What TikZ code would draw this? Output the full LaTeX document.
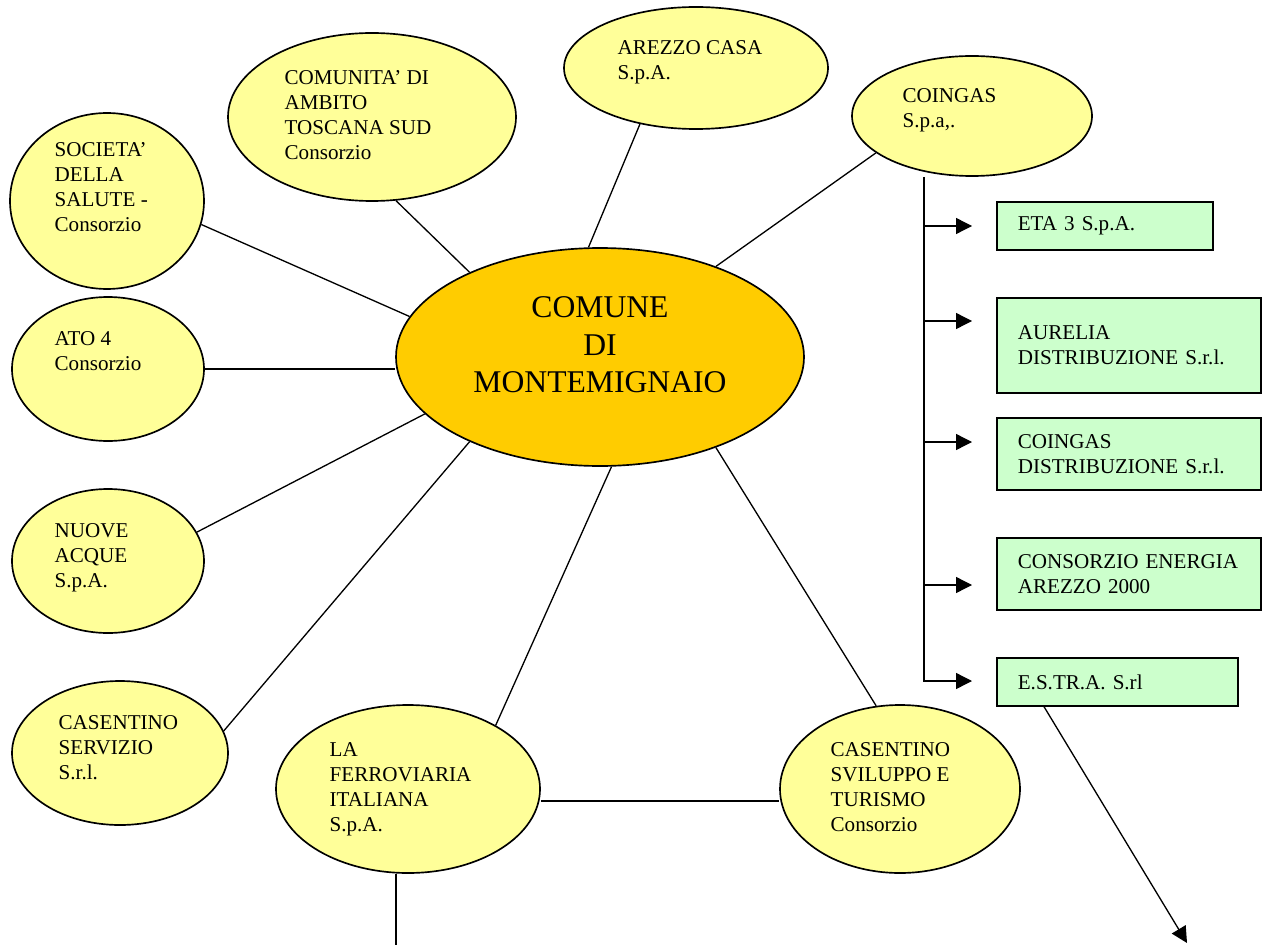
\documentclass[tikz,border=0pt]{standalone}
\usepackage{fontspec}
\setmainfont{Liberation Serif}
\usetikzlibrary{shapes, arrows.meta, positioning}

\definecolor{lemon}{HTML}{FFFF99}
\definecolor{amber}{HTML}{FFCC00}
\definecolor{mint}{HTML}{CCFFCC}

\begin{document}
\begin{tikzpicture}[x=0.2mm, y=-0.2mm, >={Triangle[length=3.2mm, width=3.2mm]}, line width=0.75pt,
  blob/.style 2 args={draw, ellipse, fill=lemon, line width=0.95pt, minimum width=#1*0.4mm, minimum height=#2*0.4mm, inner sep=0pt},
  tag/.style={anchor=north west, align=left, inner sep=0pt, font=\fontsize{12}{14.2}\selectfont},
  firm/.style 2 args={draw, fill=mint, line width=0.95pt, anchor=north west, align=left, inner xsep=4.2mm, text width=#1, minimum height=#2, font=\fontsize{12}{14.2}\selectfont}]

\useasboundingbox (0,0) rectangle (1265,947);

% Nodes
\node (com) [blob={204}{109}, fill=amber] at (600,357) {};
\node (comT) [align=center, inner sep=0pt, font=\fontsize{18}{21.3}\selectfont] at (600,345) {COMUNE\\DI\\MONTEMIGNAIO};

\node (soc) [blob={97}{88}] at (107,201) {};
\node (socT) [tag] at (54,142) {SOCIETA'\\DELLA\\SALUTE -\\Consorzio};
\node (comu) [blob={144}{84}] at (372,117) {};
\node (comuT) [tag] at (284,70) {COMUNITA' DI\\AMBITO\\TOSCANA SUD\\Consorzio};
\node (arezzo) [blob={132}{61}] at (696,68) {};
\node (arezzoT) [tag] at (617,40) {AREZZO CASA\\S.p.A.};
\node (coingas) [blob={120}{60}] at (972,116) {};
\node (coingasT) [tag] at (902,88) {COINGAS\\S.p.a,.};
\node (ato) [blob={96}{72}] at (108,369) {};
\node (atoT) [tag] at (54,331) {ATO 4\\Consorzio};
\node (nuove) [blob={96}{72}] at (108,561) {};
\node (nuoveT) [tag] at (54,523) {NUOVE\\ACQUE\\S.p.A.};
\node (casserv) [blob={108}{72}] at (120,753) {};
\node (casservT) [tag] at (58,715) {CASENTINO\\SERVIZIO\\S.r.l.};
\node (ferr) [blob={132}{84}] at (408,789) {};
\node (ferrT) [tag] at (329,742) {LA\\FERROVIARIA\\ITALIANA\\S.p.A.};
\node (cassvil) [blob={120}{84}] at (900,789) {};
\node (cassvilT) [tag] at (830,742) {CASENTINO\\SVILUPPO E\\TURISMO\\Consorzio};

\node (eta) [firm={34.8mm}{9.6mm}] at (996,201) {ETA 3 S.p.A.};
\node (aurelia) [firm={44.4mm}{19mm}] at (996,297) {AURELIA\\DISTRIBUZIONE S.r.l.\\ };
\node (coingasD) [firm={44.4mm}{14.4mm}] at (996,417) {COINGAS\\DISTRIBUZIONE S.r.l.};
\node (energia) [firm={44.4mm}{14.4mm}] at (996,537) {CONSORZIO ENERGIA\\AREZZO 2000};
\node (estra) [firm={39.8mm}{9.6mm}] at (996,657) {E.S.TR.A. S.rl};

\coordinate (trunk) at (924,177);
\coordinate (estraTip) at (1187,943);
\coordinate (ferrTail) at (396,945);

% Lines
\draw (soc.346) -- (com.168);
\draw (comu.286) -- (com.147);
\draw (arezzo.225) -- (com.96);
\draw (coingas.201) -- (com.38);
\draw (ato.east) -- (ato.east -| com.west);
\draw (nuove.18) -- (com.198);
\draw (casserv.12) -- (com.213);
\draw (ferr.36) -- (com.276);
\draw (cassvil.106) -- (com.322);
\draw ([yshift=-2.4mm]ferr.east) -- ([yshift=-2.4mm]cassvil.west);
\draw (ferrTail |- ferr.south) -- (ferrTail);

% Arrows
\draw (trunk) -- (trunk |- estra.west);
\foreach \y in {226,321,442,585,681}
  \draw[->] (trunk |- 0,\y) -- ++(48,0);
\draw[->] ([xshift=9.6mm]estra.south west) -- (estraTip);

\end{tikzpicture}
\end{document}
